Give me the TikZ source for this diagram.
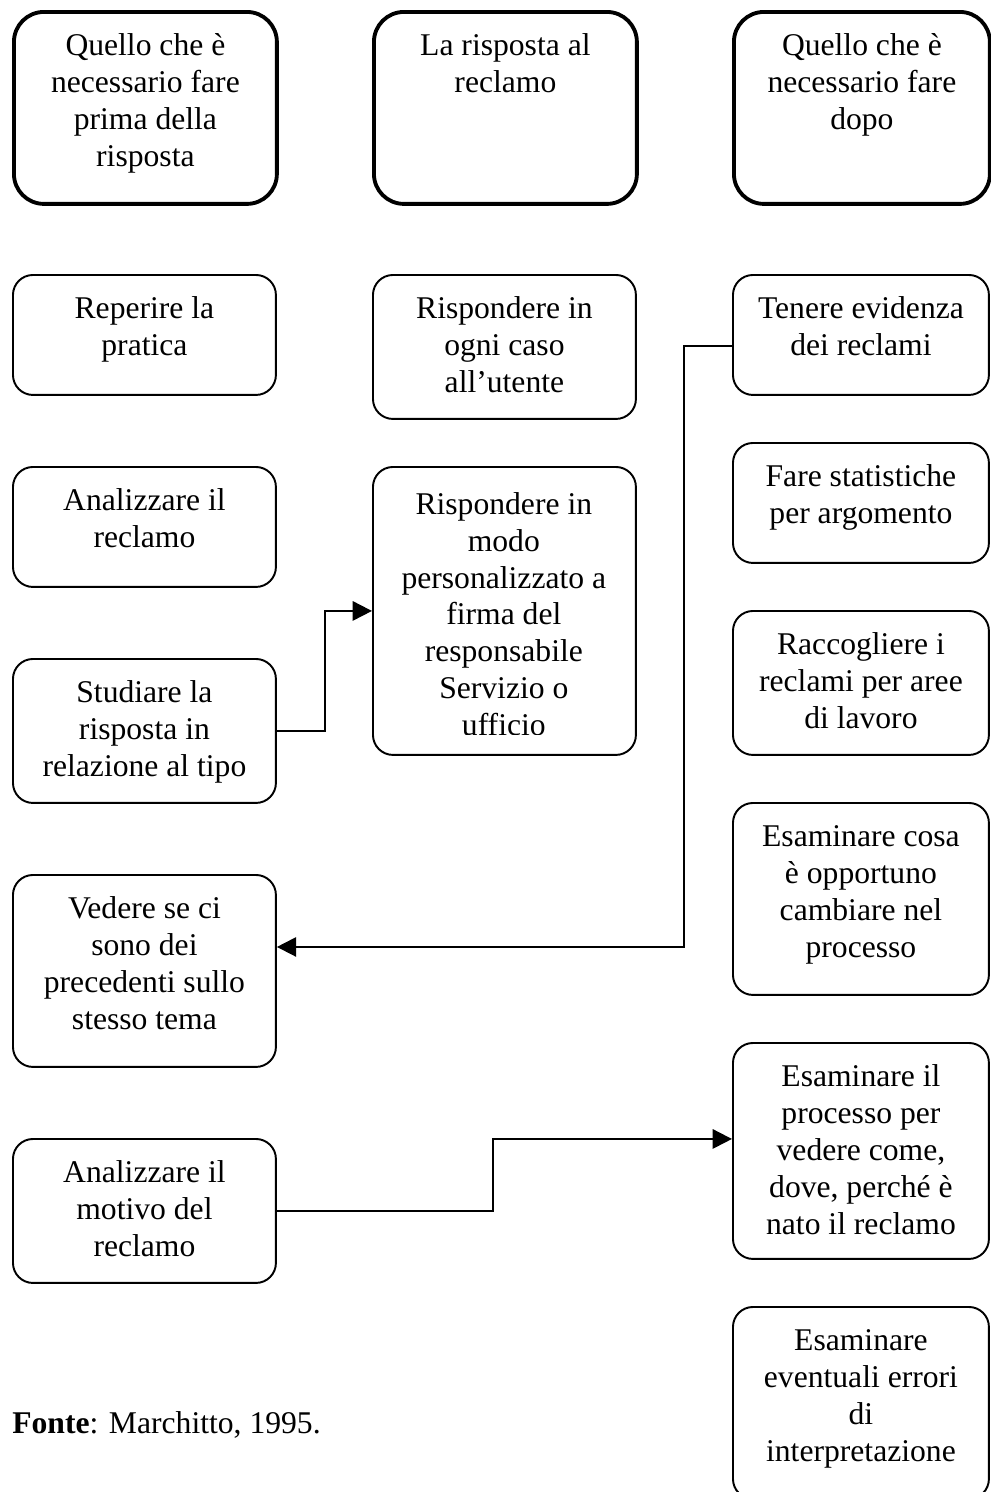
\documentclass[tikz,border=0pt]{standalone}
\usepackage{fontspec}
\setmainfont{Liberation Serif}
\usetikzlibrary{arrows.meta}

\tikzset{
  headbox/.style={draw, line width=2.2pt, rounded corners=0.6cm, inner sep=0pt, anchor=north west},
  stepbox/.style={draw, line width=1.1pt, rounded corners=0.4cm, inner sep=0pt, anchor=north west},
  link/.style={line width=1.1pt, -{Triangle[length=11pt,width=11pt]}},
}
% top aligned text of a box: width, height, text
\newcommand{\cell}[3]{\parbox[c][#2][t]{#1}{\centering\vspace*{10.3pt}\strut#3}}

\begin{document}
\begin{tikzpicture}
  [x=0.02cm, y=-0.02cm, font=\fontsize{18}{21}\selectfont]
  \useasboundingbox (0,0) rectangle (991,1492);

  % column headers
  \node[headbox] (h1) at (12, 10) {\cell{5.26cm}{3.84cm}{Quello che è\\ necessario fare\\ prima della\\ risposta}};
  \node[headbox] (h2) at (372, 10) {\cell{5.26cm}{3.84cm}{La risposta al\\ reclamo}};
  \node[headbox] (h3) at (732, 10) {\cell{5.12cm}{3.84cm}{Quello che è\\ necessario fare\\ dopo}};

  % before
  \node[stepbox] (a1) at (12, 274) {\cell{5.26cm}{2.4cm}{Reperire la\\ pratica}};
  \node[stepbox] (a2) at (12, 466) {\cell{5.26cm}{2.4cm}{Analizzare il\\ reclamo}};
  \node[stepbox] (a3) at (12, 658) {\cell{5.26cm}{2.88cm}{Studiare la\\ risposta in\\ relazione al tipo}};
  \node[stepbox] (a4) at (12, 874) {\cell{5.26cm}{3.84cm}{Vedere se ci\\ sono dei\\ precedenti sullo\\ stesso tema}};
  \node[stepbox] (a5) at (12, 1138) {\cell{5.26cm}{2.88cm}{Analizzare il\\ motivo del\\ reclamo}};

  % answer
  \node[stepbox] (b1) at (372, 274) {\cell{5.26cm}{2.88cm}{Rispondere in\\ ogni caso\\ all’utente}};
  \node[stepbox] (b2) at (372, 466) {\cell{5.26cm}{5.76cm}{}};
  \begin{scope}
    \clip (372, 466) rectangle (635, 734);
    \node[anchor=north west, inner sep=0pt] (b2text) at (372, 470) {\cell{5.26cm}{5.6cm}{Rispondere in\\ modo\\ personalizzato a\\ firma del\\ responsabile\\ Servizio o\\ ufficio}};
  \end{scope}

  % after
  \node[stepbox] (c1) at (732, 274) {\cell{5.12cm}{2.4cm}{Tenere evidenza\\ dei reclami}};
  \node[stepbox] (c2) at (732, 442) {\cell{5.12cm}{2.4cm}{Fare statistiche\\ per argomento}};
  \node[stepbox] (c3) at (732, 610) {\cell{5.12cm}{2.88cm}{Raccogliere i\\ reclami per aree\\ di lavoro}};
  \node[stepbox] (c4) at (732, 802) {\cell{5.12cm}{3.84cm}{Esaminare cosa\\ è opportuno\\ cambiare nel\\ processo}};
  \node[stepbox] (c5) at (732, 1042) {\cell{5.12cm}{4.32cm}{Esaminare il\\ processo per\\ vedere come,\\ dove, perché è\\ nato il reclamo}};
  \node[stepbox] (c6) at (732, 1306) {\cell{5.12cm}{3.84cm}{Esaminare\\ eventuali errori\\ di\\ interpretazione}};

  \node[anchor=base west, inner sep=0pt] (src) at (12, 1433) {\textbf{Fonte}: Marchitto, 1995.};

  \draw[link] (a3.east) -- ++(48,0) |- (b2.west);
  \draw[link] ([yshift=-0.22cm]c1.west) -- ++(-48,0) |- ([yshift=0.48cm]a4.east);
  \draw[link] (a5.east) -- ++(216,0) |- ([yshift=0.24cm]c5.west);

\end{tikzpicture}
\end{document}
